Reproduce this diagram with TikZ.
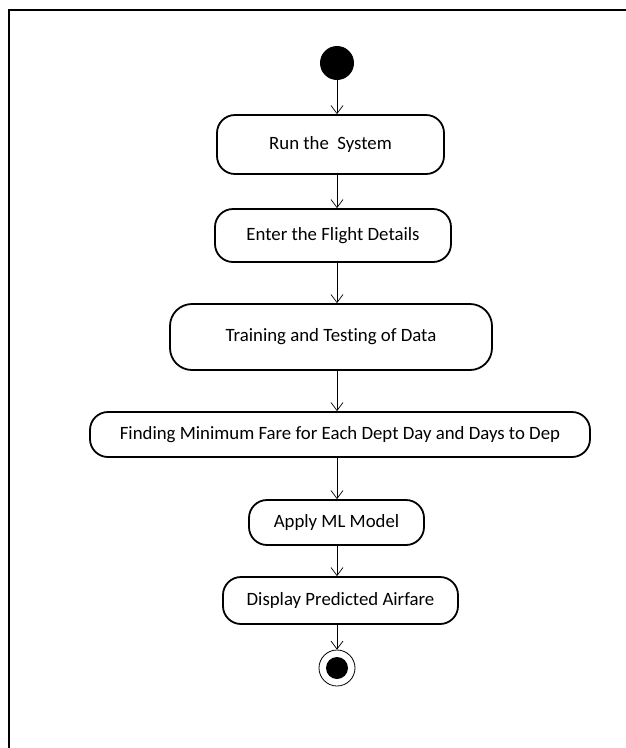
\documentclass[tikz,border=0pt]{standalone}
\usepackage{fontspec}
\setmainfont{Carlito}[Ligatures=CommonOff]
\usetikzlibrary{arrows.meta}

\tikzset{
  activity/.style={draw,line width=1.8pt,rounded corners=18pt,fill=white,
    font=\fontsize{18.8}{22}\selectfont,inner sep=0pt},
  flow/.style={line width=0.7pt,-{Straight Barb[length=8pt,width=12pt]}}
}

\begin{document}
\begin{tikzpicture}[x=1pt,y=-1pt]
\useasboundingbox (0,0) rectangle (626,748);
\draw[line width=2.2pt] (9,748) -- (9,10) -- (626,10);

\node[circle,fill=black,minimum size=34pt,inner sep=0pt] (start) at (337,63) {};
\node[activity,minimum width=227pt,minimum height=59pt] (run) at (330.5,144.5) {Run the\ \ System};
\node[activity,minimum width=236pt,minimum height=53pt] (enter) at (333,235.5) {Enter the Flight Details};
\node[activity,minimum width=322pt,minimum height=66pt,rounded corners=22pt] (train) at (331,337) {Training and Testing of Data};
\node[activity,minimum width=500pt,minimum height=45pt] (find) at (340,434.5) {Finding Minimum Fare for Each Dept Day and Days to Dep};
\node[activity,minimum width=175pt,minimum height=45pt] (apply) at (336.5,522.5) {Apply ML Model};
\node[activity,minimum width=235pt,minimum height=47pt] (show) at (340.5,600.5) {Display Predicted Airfare};
\node[circle,draw,line width=0.8pt,minimum size=36pt,inner sep=0pt] (stop) at (337,668) {};
\fill (stop) circle (11pt);

\draw[flow] (start) -- (start |- run.north);
\draw[flow] (start |- run.south) -- (start |- enter.north);
\draw[flow] (start |- enter.south) -- (start |- train.north);
\draw[flow] (start |- train.south) -- (start |- find.north);
\draw[flow] (start |- find.south) -- (start |- apply.north);
\draw[flow] (start |- apply.south) -- (start |- show.north);
\draw[flow] (start |- show.south) -- (stop);
\end{tikzpicture}
\end{document}
